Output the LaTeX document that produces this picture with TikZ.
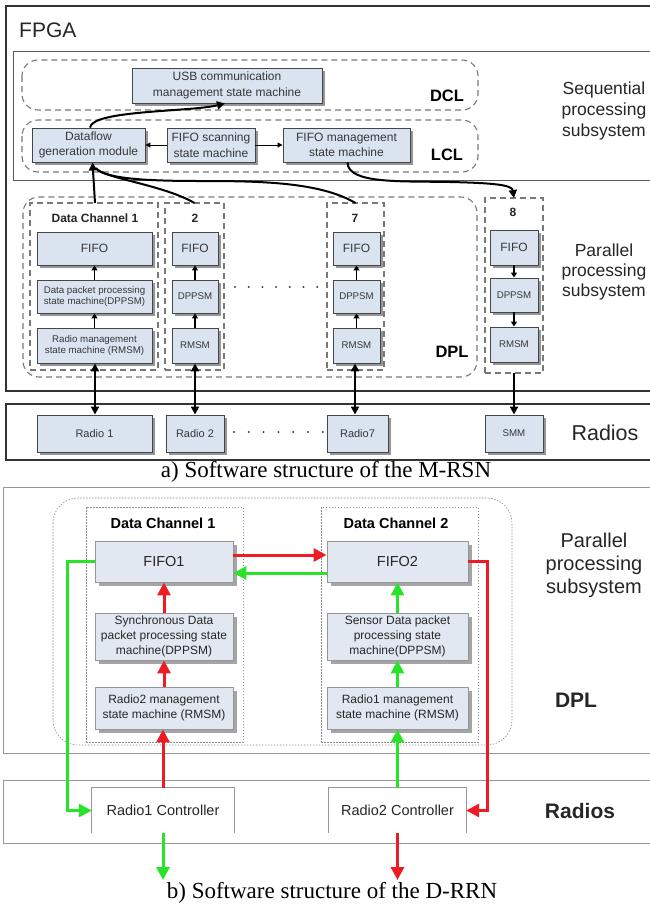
\documentclass[tikz,border=0pt]{standalone}
\usepackage{fontspec}
\setmainfont{Liberation Sans}
\newfontfamily\capfont{Liberation Serif}
\usetikzlibrary{arrows.meta,shadows}
\definecolor{tfill}{RGB}{218,228,241}
\definecolor{tline}{RGB}{70,70,70}
\definecolor{tshadow}{RGB}{150,150,150}
\definecolor{ttext}{RGB}{55,55,55}
\definecolor{dashc}{RGB}{120,120,120}
\definecolor{bfill}{RGB}{226,232,242}
\definecolor{bline}{RGB}{150,150,150}
\definecolor{bshadow}{RGB}{165,165,165}
\definecolor{dotc}{RGB}{140,140,140}
\definecolor{framec}{RGB}{90,90,90}
\definecolor{redc}{RGB}{237,28,36}
\definecolor{greenc}{RGB}{40,228,40}
\newcommand\fsz[2]{\fontsize{#1pt}{#2pt}\selectfont}
\begin{document}
\begin{tikzpicture}[x=1pt,y=-1pt,
  tbox/.style={draw=tline, fill=tfill, line width=0.9pt, inner sep=0pt, align=center, text=ttext,
    drop shadow={shadow xshift=3pt, shadow yshift=-3pt, fill=tshadow, opacity=1}},
  bbox/.style={draw=bline, fill=bfill, line width=0.8pt, inner sep=0pt, align=center, text=black!85,
    drop shadow={shadow xshift=4pt, shadow yshift=-4pt, fill=bshadow, opacity=1}},
  dashline/.style={draw=dashc, line width=1.1pt, dash pattern=on 6pt off 4pt},
  chanbox/.style={dashline, inner sep=0pt, outer sep=0pt},
  dotline/.style={draw=dotc, line width=0.6pt, dash pattern=on 1.5pt off 1.5pt},
  dchan/.style={dotline, inner sep=0pt, outer sep=0pt},
  bigarr/.style={line width=2pt, -{Triangle[width=8pt,length=8pt]}},
  dblarr/.style={line width=2pt, {Triangle[width=8pt,length=8pt]}-{Triangle[width=8pt,length=8pt]}},
  smarr/.style={line width=1.6pt, -{Triangle[width=6pt,length=5pt]}},
  thinarr/.style={line width=1pt, -{Triangle[width=5pt,length=5pt]}},
  redarr/.style={draw=redc, line width=3pt, -{Triangle[width=13pt,length=13pt]}},
  greenarr/.style={draw=greenc, line width=3pt, -{Triangle[width=13pt,length=13pt]}},
  blbl/.style={font=\bfseries\fsz{12}{14}, text=black!85, inner sep=0pt},
  side/.style={align=center, inner sep=0pt, text=black!85}
]
\useasboundingbox (0,0) rectangle (649,906);

% ===================== a) =====================
\draw[draw=black!80, line width=1.2pt] (650,6) -- (6,6) -- (6,391) -- (650,391);
\draw[draw=framec, line width=1pt] (650,51) -- (13,51) -- (13,180) -- (650,180);
\node[anchor=west, font=\fsz{21}{24}, inner sep=0pt, text=black!85] (fpga) at (19,30) {FPGA};
\node[side, font=\fsz{17.5}{21}] (seq) at (604,111) {Sequential\\processing\\subsystem};

\draw[dashline, rounded corners=16pt] (22,60) rectangle (478,110);
\draw[dashline, rounded corners=16pt] (22,120) rectangle (478,172);
\node[font=\bfseries\fsz{16.5}{18}, inner sep=0pt] (dcl) at (447,96) {DCL};
\node[font=\bfseries\fsz{16.5}{18}, inner sep=0pt] (lcl) at (447,155) {LCL};

\node[tbox, minimum width=190pt, minimum height=35pt, font=\fsz{12}{15.5}] (usb) at (227,85.5) {USB communication\\management state machine};
\node[tbox, minimum width=113pt, minimum height=34pt, font=\fsz{12}{15.5}] (df) at (88.5,145) {Dataflow\\generation module};
\node[tbox, minimum width=88pt, minimum height=34pt, font=\fsz{12}{15.5}] (scan) at (211,145) {FIFO scanning\\state machine};
\node[tbox, minimum width=127pt, minimum height=34pt, font=\fsz{12}{15.5}] (fm) at (346.5,145) {FIFO management\\state machine};
\draw[thinarr] (scan.west) -- (df.east);
\draw[thinarr] (scan.east) -- (fm.west);

% DPL
\draw[dashline, rounded corners=16pt] (23,197) rectangle (477,377);
\node[font=\bfseries\fsz{16.5}{18}, inner sep=0pt] (dpl) at (452,352) {DPL};
\node[side, font=\fsz{17.5}{20}] (par) at (604,272) {Parallel\\processing\\subsystem};

% channel frames
\node[chanbox, minimum width=128pt, minimum height=167pt] (ch1) at (94,286.5) {};
\node[chanbox, minimum width=59pt, minimum height=167pt] (ch2) at (194.5,286.5) {};
\node[chanbox, minimum width=57pt, minimum height=167pt] (ch7) at (355.5,286.5) {};
\node[chanbox, minimum width=58pt, minimum height=175pt] (ch8) at (514,285.5) {};
\node[blbl] (l1) at (95,218) {Data Channel 1};
\node[blbl] (l2) at (195,218) {2};
\node[blbl] (l7) at (355,218) {7};
\node[blbl] (l8) at (513,212) {8};

% channel 1
\node[tbox, minimum width=115pt, minimum height=33pt, font=\fsz{12}{14}] (f1) at (94.5,248.5) {FIFO};
\node[tbox, minimum width=115pt, minimum height=33pt, font=\fsz{9.7}{11.7}] (d1) at (94.5,296.5) {Data packet processing\\state machine(DPPSM)};
\node[tbox, minimum width=115pt, minimum height=35pt, font=\fsz{9.7}{11.7}] (r1) at (94.5,345.5) {Radio management\\state machine (RMSM)};
% channel 2
\node[tbox, minimum width=46pt, minimum height=33pt, font=\fsz{12}{14}] (f2) at (195,248.5) {FIFO};
\node[tbox, minimum width=46pt, minimum height=33pt, font=\fsz{9.7}{11.7}] (d2) at (195,296.5) {DPPSM};
\node[tbox, minimum width=46pt, minimum height=35pt, font=\fsz{9.7}{11.7}] (r2) at (195,345.5) {RMSM};
% channel 7
\node[tbox, minimum width=47pt, minimum height=33pt, font=\fsz{12}{14}] (f7) at (356.5,248.5) {FIFO};
\node[tbox, minimum width=47pt, minimum height=33pt, font=\fsz{9.7}{11.7}] (d7) at (356.5,296.5) {DPPSM};
\node[tbox, minimum width=47pt, minimum height=35pt, font=\fsz{9.7}{11.7}] (r7) at (356.5,345.5) {RMSM};
% channel 8
\node[tbox, minimum width=48pt, minimum height=35pt, font=\fsz{12}{14}] (f8) at (514,247.5) {FIFO};
\node[tbox, minimum width=48pt, minimum height=34pt, font=\fsz{9.7}{11.7}] (d8) at (514,295) {DPPSM};
\node[tbox, minimum width=48pt, minimum height=35pt, font=\fsz{9.7}{11.7}] (r8) at (514,344.5) {RMSM};

\foreach \a/\b in {d1/f1,r1/d1,d2/f2,r2/d2,d7/f7,r7/d7} \draw[smarr] (\a.north) -- (\b.south);
\draw[smarr] (f8.south) -- (d8.north);
\draw[smarr] (d8.south) -- (r8.north);

\foreach \i in {0,...,6} \fill[black!75] (235+\i*13.7,287) circle (1.1pt);

% curves to upper layers
\draw[bigarr] ([xshift=1.5pt]df.north) .. controls (92,110) and (190,112) .. ([xshift=-2pt]usb.south);
\draw[bigarr] (ch1.north -| 95,0) -- ([xshift=4pt]df.south);
\draw[line width=2pt] (ch2.north) .. controls (165,186) and (115,180) .. (97,170);
\draw[line width=2pt] (ch7.north) .. controls (320,182) and (260,181) .. (200,181) .. controls (140,181) and (104,178) .. (96,168);
\draw[bigarr] ([xshift=1pt]fm.south) .. controls (348,184) and (400,181) .. (450,182) .. controls (495,183) and (512,185) .. (ch8.north);

% Radios
\draw[draw=black!80, line width=1.2pt] (650,404) -- (6,404) -- (6,460) -- (650,460);
\node[tbox, minimum width=115pt, minimum height=37pt, font=\fsz{11}{13}] (ra1) at (94.5,433.5) {Radio 1};
\node[tbox, minimum width=58pt, minimum height=37pt, font=\fsz{11}{13}] (ra2) at (195,433.5) {Radio 2};
\node[tbox, minimum width=61pt, minimum height=37pt, font=\fsz{11}{13}] (ra7) at (357.5,433.5) {Radio7};
\node[tbox, minimum width=58pt, minimum height=37pt, font=\fsz{9.7}{12}] (smm) at (514,433.5) {SMM};
\node[side, font=\fsz{21.5}{24}] (rad) at (605,433) {Radios};
\foreach \i in {0,...,6} \fill[black!75] (234+\i*14.8,432) circle (1.1pt);

\draw[dblarr] (r1.south -| 95,0) -- (ra1.north -| 95,0);
\draw[dblarr] (r2.south) -- (ra2.north -| r2.south);
\draw[dblarr] (r7.south -| 355,0) -- (ra7.north -| 355,0);
\draw[bigarr] (ch8.south) -- (smm.north);

\node[font=\capfont\fsz{23}{26}, inner sep=0pt] (capa) at (326,472) {a) Software structure of the M-RSN};

% ===================== b) =====================
\draw[draw=bline, line width=1pt] (650,487) -- (3,487) -- (3,753) -- (650,753);
\draw[dotline, rounded corners=25pt] (53,498) rectangle (512,745);
\node[dchan, minimum width=157pt, minimum height=235pt] (cb1) at (164.5,624.5) {};
\node[dchan, minimum width=157pt, minimum height=235pt] (cb2) at (399.5,624.5) {};
\node[font=\bfseries\fsz{14.5}{16}, inner sep=0pt] (lb1) at (163,523) {Data Channel 1};
\node[font=\bfseries\fsz{14.5}{16}, inner sep=0pt] (lb2) at (396,523) {Data Channel 2};

\node[bbox, minimum width=138pt, minimum height=41pt, font=\fsz{14.5}{16}] (fb1) at (164,561.5) {FIFO1};
\node[bbox, minimum width=138pt, minimum height=47pt, font=\fsz{12}{15}] (db1) at (164,636.5) {Synchronous Data\\packet processing state\\machine(DPPSM)};
\node[bbox, minimum width=138pt, minimum height=42pt, font=\fsz{12}{15}] (rb1) at (164,708) {Radio2 management\\state machine (RMSM)};
\node[bbox, minimum width=141pt, minimum height=41pt, font=\fsz{14.5}{16}] (fb2) at (397.5,561.5) {FIFO2};
\node[bbox, minimum width=141pt, minimum height=47pt, font=\fsz{12}{15}] (db2) at (397.5,636.5) {Sensor Data packet\\processing state\\machine(DPPSM)};
\node[bbox, minimum width=141pt, minimum height=42pt, font=\fsz{12}{15}] (rb2) at (397.5,708) {Radio1 management\\state machine (RMSM)};

\node[side, font=\fsz{20}{23}] (parb) at (594,565) {Parallel\\processing\\subsystem};
\node[font=\bfseries\fsz{21}{24}, inner sep=0pt, text=black!85] (dplb) at (576,700) {DPL};

% Radios b
\draw[draw=bline, line width=1pt] (650,780) -- (3,780) -- (3,843) -- (650,843);
\node[fill=white, minimum width=142pt, minimum height=45pt, inner sep=0pt, font=\fsz{14.5}{16}, text=black!85] (rc1) at (163,810.5) {Radio1 Controller};
\node[fill=white, minimum width=137pt, minimum height=45pt, inner sep=0pt, font=\fsz{14.5}{16}, text=black!85] (rc2) at (397.5,810.5) {Radio2 Controller};
\draw[draw=bline, line width=0.8pt] (rc1.south west) |- (rc1.north east) -- (rc1.south east);
\draw[draw=bline, line width=0.8pt] (rc2.south west) |- (rc2.north east) -- (rc2.south east);
\node[font=\bfseries\fsz{21}{24}, inner sep=0pt, text=black!85] (radb) at (580,811) {Radios};

% arrows b
\draw[redarr] (db1.north) -- (fb1.south);
\draw[redarr] (rb1.north) -- (db1.south);
\draw[greenarr] (db2.north) -- (fb2.south);
\draw[greenarr] (rb2.north) -- (db2.south);
\draw[redarr] ([yshift=6.5pt]fb1.east) -- ([yshift=6.5pt]fb1.east -| fb2.west);
\draw[greenarr] ([yshift=-11.5pt]fb2.west) -- ([yshift=-11.5pt]fb2.west -| fb1.east);
\draw[greenarr] (fb1.west) -- ++(-27,0) |- (rc1.west);
\draw[redarr] (fb2.east) -- ++(19,0) |- (rc2.east);
\draw[redarr] (rc1.north) -- (rc1.north |- rb1.south);
\draw[greenarr] (rc2.north) -- (rc2.north |- rb2.south);
\coordinate (o1) at (163,880);
\coordinate (o2) at (397.5,880);
\draw[greenarr] (rc1.south) -- (o1);
\draw[redarr] (rc2.south) -- (o2);

\node[font=\capfont\fsz{23}{26}, inner sep=0pt] (capb) at (332,893) {b) Software structure of the D-RRN};
\end{tikzpicture}
\end{document}
